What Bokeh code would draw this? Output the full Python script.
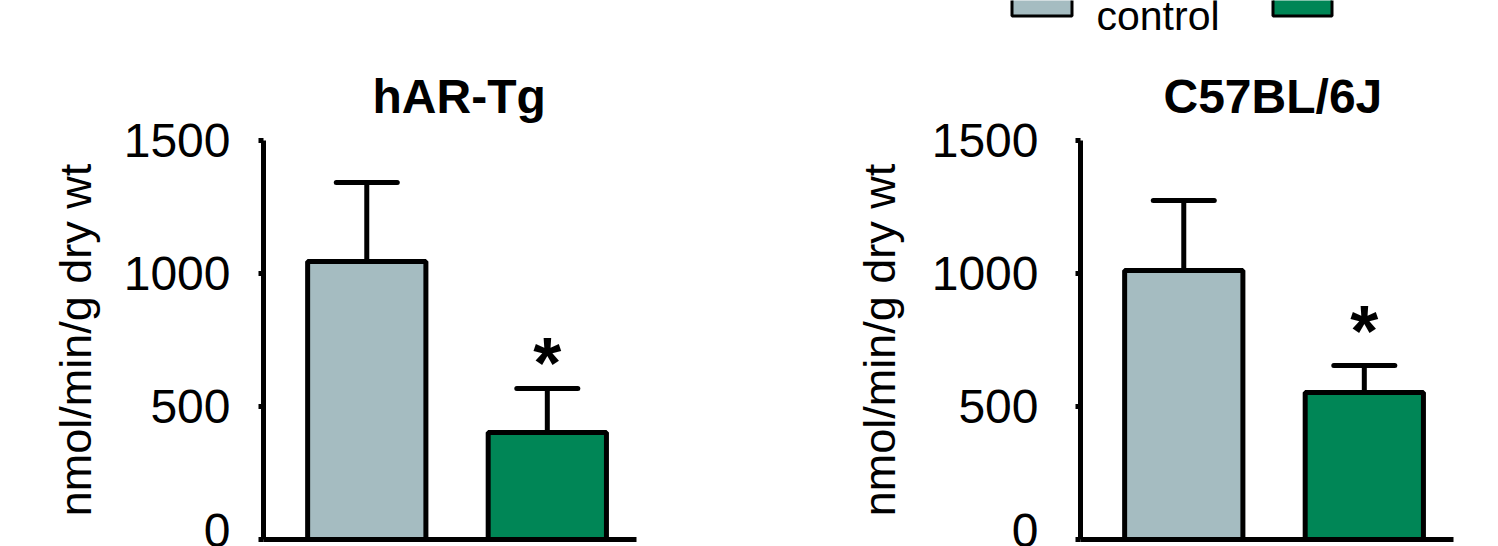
from bokeh.plotting import figure
from bokeh.models import Range1d, FixedTicker, ColumnDataSource, Whisker, TeeHead
from bokeh.layouts import column, row
from bokeh.core.properties import value
from bokeh.embed import file_html
from bokeh.resources import INLINE

# ---- data ----
groups = ["control", "treated"]
colors = ["#a5bcc1", "#008656"]
panels = ["hAR-Tg", "C57BL/6J"]
har_means = [1045, 402]
har_errs = [297, 166]
c57_means = [1011, 553]
c57_errs = [263, 101]
signif = ["", "*"]
y_ticks = [0, 500, 1000, 1500]
y_label = "nmol/min/g dry wt"
legend_labels = ["control"]

FONT = "Liberation Sans"


def panel(title, means, errs, width, border_left, border_right, tick_standoff,
          label_standoff, title_offset, star_offset):
    p = figure(width=width, height=498, output_backend="svg", toolbar_location=None,
               x_range=Range1d(-0.572, 1.494), y_range=Range1d(0, 1500),
               min_border_left=border_left, min_border_right=border_right,
               min_border_top=92, min_border_bottom=7)
    p.outline_line_color = None
    p.grid.visible = False
    p.background_fill_color = "white"
    p.border_fill_color = "white"

    xs = list(range(len(groups)))
    src = ColumnDataSource(dict(
        x=xs, top=means, color=colors,
        upper=[m + e for m, e in zip(means, errs)], lower=means, star=signif))
    p.vbar(x="x", top="top", bottom=0, width=0.655, fill_color="color",
           line_color="black", line_width=5, source=src)
    p.add_layout(Whisker(source=src, base="x", upper="upper", lower="lower",
                         dimension="height", line_width=5, line_color="black",
                         upper_head=TeeHead(size=61, line_width=5, line_color="black",
                                            line_cap="round"),
                         lower_head=None))
    p.text(x="x", y="upper", text="star", source=src, y_offset=-star_offset,
           text_align="center", text_baseline="middle", text_font=value(FONT),
           text_font_style="bold", text_font_size="72px", text_color="black")

    # axes
    yax = p.yaxis[0]
    yax.ticker = FixedTicker(ticks=y_ticks)
    yax.axis_line_width = 5
    yax.major_tick_line_width = 5
    yax.major_tick_out = 5
    yax.major_tick_in = 0
    yax.minor_tick_line_color = None
    yax.major_label_text_font = FONT
    yax.major_label_text_font_size = "48px"
    yax.major_label_text_color = "black"
    yax.major_label_standoff = tick_standoff
    yax.axis_label = y_label
    yax.axis_label_text_font = FONT
    yax.axis_label_text_font_size = "45px"
    yax.axis_label_text_font_style = "normal"
    yax.axis_label_text_color = "black"
    yax.axis_label_standoff = label_standoff

    xax = p.xaxis[0]
    xax.ticker = FixedTicker(ticks=[])
    xax.axis_line_width = 5
    xax.major_tick_out = 0
    xax.major_tick_in = 0
    xax.minor_tick_line_color = None
    xax.major_label_text_font_size = "0px"
    xax.major_label_standoff = 0

    p.title.text = title
    p.title.text_font = FONT
    p.title.text_font_size = "48px"
    p.title.text_font_style = "bold"
    p.title.text_color = "black"
    p.title.align = "left"
    p.title.offset = title_offset
    p.title.standoff = 36
    return p


p1 = panel(panels[0], har_means, har_errs, 745, 263, 109, 28, 20, 109, 25)
p2 = panel(panels[1], c57_means, c57_errs, 753, 335, 45, 37, 24, 83, 35)

# legend strip (partly cut at the top, as in the reference)
leg = figure(width=1498, height=48, output_backend="svg", toolbar_location=None,
             x_range=Range1d(0, 1498), y_range=Range1d(48, 0),
             x_axis_type=None, y_axis_type=None, min_border=0)
leg.outline_line_color = None
leg.grid.visible = False
leg.quad(left=[1011.5, 1272.5], right=[1071.5, 1331.5], top=[-40, -40], bottom=[15.5, 15.5],
         fill_color=colors, line_color="black", line_width=3)
leg.text(x=[1096], y=[15], text=legend_labels, text_font=value(FONT), text_font_size="41px",
         text_baseline="alphabetic", text_align="left", text_color="black")

layout = column(leg, row(p1, p2, spacing=0), spacing=0)
open("out.html", "w").write(file_html(layout, INLINE))
